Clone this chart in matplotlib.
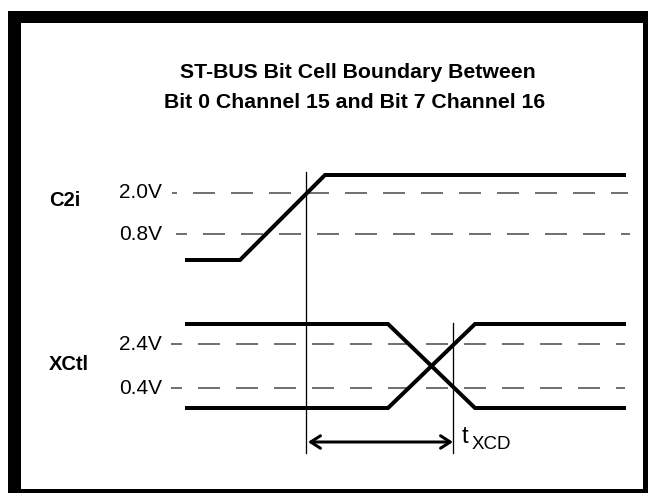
import matplotlib
matplotlib.use("Agg")
import matplotlib.pyplot as plt
from matplotlib.patches import Rectangle

plt.rcParams['font.family'] = ['Liberation Sans', 'DejaVu Sans']
plt.rcParams['lines.scale_dashes'] = False

# Titel
title_lines = ['ST-BUS Bit Cell Boundary Between', 'Bit 0 Channel 15 and Bit 7 Channel 16']

# Signalnamen und Schwellen (Beschriftung, y-Lage in Pixel)
signal_names = ['C2i', 'XCtl']
signal_label_y = [201, 364]
threshold_labels = ['2.0V', '0.8V', '2.4V', '0.4V']
threshold_y = [193, 234, 344, 388]
threshold_x0 = [172, 176, 171, 171]
threshold_x1 = [628, 630, 625, 625]
threshold_offset = [17, 11, 11, 11]

# Wellenformen (x = Zeit in Pixel, y = Pegel in Pixel)
c2i_t = [185, 240, 325, 626]
c2i_y = [260, 260, 175, 175]
xctl_fall_t = [185, 388, 475, 626]
xctl_fall_y = [324, 324, 408, 408]
xctl_rise_t = [185, 388, 475, 626]
xctl_rise_y = [408, 408, 324, 324]

# Markierungen
marker_x = [306, 453]
marker_top = [172, 323]
marker_bottom = 453
arrow_y = 442

W, H = 648, 493
fig = plt.figure(figsize=(W / 100, H / 100), dpi=100)
ax = fig.add_axes([0, 0, 1, 1])
ax.set_xlim(0, W)
ax.set_ylim(H, 0)
ax.axis('off')

px = 72 / 100  # Pixel -> Punkt

# Rahmen: schwarze Flaeche, weisses Inneres
ax.add_patch(Rectangle((8, 11), W, H, fc='black', ec='none'))
ax.add_patch(Rectangle((21, 23), 643 - 21, 489 - 23, fc='white', ec='none'))

# Titel
ax.text(358, 73, title_lines[0], ha='center', va='center', fontsize=15.3, fontweight='bold')
ax.text(355, 102, title_lines[1], ha='center', va='center', fontsize=15.3, fontweight='bold')

# Signalnamen
for name, y in zip(signal_names, signal_label_y):
    ax.text(49, y, name, ha='left', va='center', fontsize=14.5, fontweight='bold')

# Schwellenlinien
dash_on, dash_off = 22 * px, 16 * px
for lab, y, x0, x1, off in zip(threshold_labels, threshold_y, threshold_x0,
                               threshold_x1, threshold_offset):
    ax.text(162, y, lab, ha='right', va='center', fontsize=15)
    ax.plot([x0, x1], [y, y], color='#444444', lw=1.5 * px,
            linestyle=(off * px, (dash_on, dash_off)))

# Wellenformen
wave_kw = dict(color='black', lw=4 * px, solid_joinstyle='miter', solid_capstyle='butt')
ax.plot(c2i_t, c2i_y, **wave_kw)
ax.plot(xctl_fall_t, xctl_fall_y, **wave_kw)
ax.plot(xctl_rise_t, xctl_rise_y, **wave_kw)

# Markierungslinien
for x, top in zip(marker_x, marker_top):
    ax.plot([x, x], [top, marker_bottom], color='black', lw=1.3 * px)

# Doppelpfeil t_XCD
ax.annotate('', xy=(marker_x[1], arrow_y), xytext=(marker_x[0] + 2, arrow_y),
            arrowprops=dict(arrowstyle='<->,head_length=0.7,head_width=0.45',
                            color='black', lw=3 * px, shrinkA=0, shrinkB=0))
ax.text(462, 443, 't', ha='left', va='baseline', fontsize=17)
ax.text(472, 449, 'XCD', ha='left', va='baseline', fontsize=13.5)

fig.savefig('out.png', dpi=100, facecolor='white')
